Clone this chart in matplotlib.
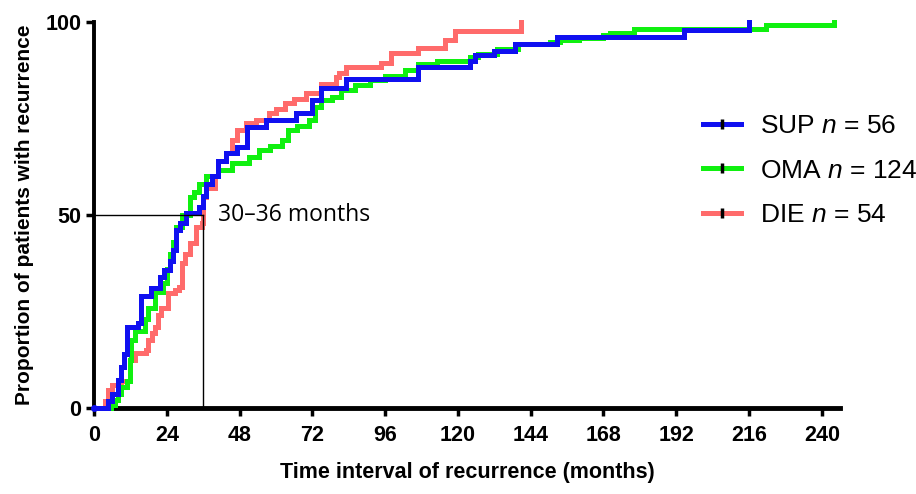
import matplotlib
matplotlib.use("Agg")
import matplotlib.pyplot as plt
from matplotlib.lines import Line2D
from matplotlib import font_manager

# ---------------- data ----------------
sup_t = [0, 4.6, 6, 7.9, 8.9, 10, 11, 14.4, 15.4, 18.7, 21.6, 23, 25, 26, 27, 28.5, 30.5, 34.7, 36, 37,
         39, 41, 43.6, 47, 50.5, 56.7, 66.5, 72, 75, 83, 107, 124, 125.6, 132, 138.7, 152.8, 194.4, 216]
sup_p = [0, 1.8, 3.6, 7.3, 10.7, 14, 21, 22, 29, 31, 34, 35.7, 38, 41, 46, 48, 50.5, 52, 55, 58,
         60, 64, 66, 67.6, 72.8, 74.6, 76.4, 79.8, 83, 85.2, 88.4, 90, 91.4, 92.5, 94.3, 96, 98, 100]

oma_t = [0, 5.6, 7, 8, 8.9, 11, 11.8, 12.3, 13.4, 16.7, 17.7, 20, 22.6, 24, 25, 26, 27, 29, 31.5, 33,
         34.7, 37, 41, 45.6, 51, 54.4, 58, 62, 64, 67, 71, 73, 75, 78.4, 81.6, 86, 91, 96, 102.6, 107,
         113, 124, 126.6, 133, 139.7, 150.5, 153.8, 160, 168, 170, 178, 221.6, 244]
oma_p = [0, 0.8, 2, 3.5, 5.5, 7, 12.5, 17.6, 20, 23, 26, 30, 32.4, 36, 40, 43, 47, 50, 54.7, 56,
         58, 60, 61.6, 63.5, 65, 66.8, 68, 69.4, 72, 73, 74.6, 78, 79.8, 80.6, 82.4, 83.7, 85, 86, 87.6, 89,
         90, 91, 91.8, 93, 94.2, 94.8, 95.3, 95.8, 96.6, 97.2, 98.2, 99.1, 100]

die_t = [0, 3.6, 4.6, 6, 8.9, 11.8, 12, 13.4, 17, 17.7, 19, 20, 21, 22, 24.3, 26.6, 28, 29, 30, 31.5,
         33.8, 35.7, 36, 37, 40, 41, 43.6, 45.6, 47, 50, 53.4, 57.7, 60, 63, 66, 70, 75, 79.7, 80.7, 83,
         94.8, 98, 107, 115.7, 119, 140.7]
die_p = [0, 1.8, 4.7, 6, 7, 8, 12.4, 14.2, 15, 17.6, 19.5, 21, 24, 26, 29.8, 30.5, 31.3, 37.5, 40, 42.7,
         47, 48, 54.7, 57, 60, 64, 66, 69.4, 72, 73.8, 74.6, 76.4, 77.5, 79, 80, 81.6, 84, 85.7, 86.8, 88.3,
         89.4, 92, 93.3, 95.3, 97.7, 100]

series_names = ["SUP", "OMA", "DIE"]
series_n = [56, 124, 54]
series_colors = ["#1010f0", "#10f010", "#ff6b6b"]

median_x = 36
median_y = 50
median_label = "30\u201336 months"

x_ticks = [0, 24, 48, 72, 96, 120, 144, 168, 192, 216, 240]
y_ticks = [0, 50, 100]

# ---------------- fonts ----------------
avail = {f.name for f in font_manager.fontManager.ttflist}
bold_font = "Liberation Sans Narrow" if "Liberation Sans Narrow" in avail else "Liberation Sans"
text_font = "Open Sans"
plt.rcParams["mathtext.fontset"] = "custom"
plt.rcParams["mathtext.rm"] = "Liberation Sans"
plt.rcParams["mathtext.it"] = "Liberation Sans:italic"
plt.rcParams["font.family"] = ["Liberation Sans", "DejaVu Sans"]

fig = plt.figure(figsize=(9.16, 4.94), dpi=100)
ax = fig.add_axes([94/916, 1-408/494, (840-94)/916, (408-22)/494])

lw = 3.6
data = {"SUP": (sup_t, sup_p), "OMA": (oma_t, oma_p), "DIE": (die_t, die_p)}
for name, col, z in [("DIE", series_colors[2], 2), ("OMA", series_colors[1], 3), ("SUP", series_colors[0], 4)]:
    t, p = data[name]
    ax.plot(t, p, drawstyle="steps-post", color=col, lw=lw, zorder=z, clip_on=False,
            solid_joinstyle="miter")

ax.plot([0], [0], "o", color=series_colors[0], ms=4, zorder=6, clip_on=False)

# median reference lines
ax.plot([0, median_x], [median_y, median_y], color="black", lw=1.0, zorder=5)
ax.plot([median_x, median_x], [0, median_y], color="black", lw=1.0, zorder=5)
ax.text(median_x + 5, median_y, median_label, fontsize=16.5, family=text_font,
        va="center", ha="left")

ax.set_xlim(0, 246)
ax.set_ylim(0, 100)
ax.set_xticks(x_ticks)
ax.set_yticks(y_ticks)
for s in ["top", "right"]:
    ax.spines[s].set_visible(False)
ax.spines["left"].set_linewidth(2.8)
ax.spines["bottom"].set_linewidth(3.5)
ax.tick_params(axis="both", direction="out", length=6, width=2.5, color="black")
for lab in ax.get_xticklabels() + ax.get_yticklabels():
    lab.set_fontfamily(bold_font)
    lab.set_fontweight("bold")
    lab.set_fontsize(15.5)
ax.tick_params(axis="x", pad=6)
ax.tick_params(axis="y", pad=3)

ax.set_xlabel("Time interval of recurrence (months)", fontsize=15.5, fontweight="bold",
              family=bold_font, labelpad=12)
ax.set_ylabel("Proportion of patients with recurrence", fontsize=15, fontweight="bold",
              family=bold_font, labelpad=8)

handles = [Line2D([], [], color=c, lw=lw, marker="|", markersize=7, markeredgewidth=2.5,
                  markeredgecolor="black") for c in series_colors]
labels = [f"{nm} $\\mathit{{n}}$ = {n}" for nm, n in zip(series_names, series_n)]
fig.legend(handles, labels, loc="upper left", bbox_to_anchor=(703/916, 1-114/494),
           frameon=False, fontsize=19, handlelength=1.45, handletextpad=0.72,
           labelspacing=0.78, borderaxespad=0, borderpad=0)

fig.savefig("out.png", dpi=100)
